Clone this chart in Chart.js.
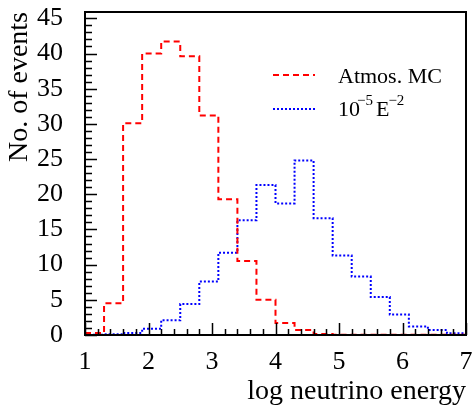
<!DOCTYPE html>
<html>
<head>
<meta charset="utf-8">
<script src="https://cdn.jsdelivr.net/npm/chart.js@4"></script>
<style>
  html, body { margin: 0; padding: 0; background: #fff; }
  #wrap { width: 476px; height: 413px; }
</style>
</head>
<body>
<div id="wrap"><canvas id="histo"></canvas></div>
<script>
// bin edges of the histogram (log10 E)
const binEdges = [1.0, 1.3, 1.6, 1.9, 2.2, 2.5, 2.8, 3.1, 3.4, 3.7, 4.0,
                  4.3, 4.6, 4.9, 5.2, 5.5, 5.8, 6.1, 6.4, 6.7, 7.0];
// events per bin
const atmosMC = [0.3, 4.5, 30.1, 40.0, 41.7, 39.6, 31.2, 19.3, 10.5, 5.0,
                 1.7, 0.7, 0.15, 0.05, 0.05, 0.05, 0.05, 0.05, 0.05, 0.05];
const e2Signal = [0.05, 0.1, 0.3, 0.9, 2.1, 4.4, 7.6, 11.7, 16.3, 21.3,
                  18.7, 24.8, 16.6, 11.3, 8.3, 5.4, 2.9, 1.2, 0.7, 0.25];
const xTicks = [1, 2, 3, 4, 5, 6, 7];
const yTicks = [0, 5, 10, 15, 20, 25, 30, 35, 40, 45];

const FONT = "'Liberation Serif', 'DejaVu Serif', serif";

// step histogram points: first point at left edge, then one per right edge
function toSteps(vals) {
  const pts = [{ x: binEdges[0], y: vals[0] }];
  vals.forEach((v, i) => pts.push({ x: binEdges[i + 1], y: v }));
  return pts;
}

// frame, inward ticks and legend, ROOT style
const frameAndLegend = {
  id: 'frameAndLegend',
  afterDraw(chart) {
    const ctx = chart.ctx;
    const a = chart.chartArea;
    const xs = chart.scales.x, ys = chart.scales.y;
    ctx.save();
    ctx.strokeStyle = '#000';
    ctx.lineWidth = 2;
    ctx.strokeRect(a.left, a.top, a.right - a.left, a.bottom - a.top);

    ctx.lineWidth = 1.5;
    ctx.beginPath();
    for (let v = 0; v <= 45; v++) {
      const py = Math.round(ys.getPixelForValue(v)) + 0.5;
      const len = v % 5 === 0 ? 12 : 7;
      ctx.moveTo(a.left, py);
      ctx.lineTo(a.left + len, py);
    }
    for (let k = 0; k <= 30; k++) {
      const v = 1 + k * 0.2;
      const px = Math.round(xs.getPixelForValue(v)) + 0.5;
      const len = k % 5 === 0 ? 12 : 6;
      ctx.moveTo(px, a.bottom);
      ctx.lineTo(px, a.bottom - len);
    }
    ctx.stroke();

    // legend
    const ds = chart.data.datasets;
    const rows = [75, 109];
    ctx.lineWidth = 2;
    ds.forEach((d, i) => {
      ctx.strokeStyle = d.borderColor;
      ctx.setLineDash(d.borderDash);
      ctx.beginPath();
      ctx.moveTo(273, rows[i]);
      ctx.lineTo(315, rows[i]);
      ctx.stroke();
    });
    ctx.setLineDash([]);
    ctx.fillStyle = '#000';
    ctx.textBaseline = 'alphabetic';
    ctx.font = '22px ' + FONT;
    ctx.fillText('Atmos. MC', 338, 83);
    let x = 338;
    const base = 116;
    ctx.fillText('10', x, base);
    x += ctx.measureText('10').width - 3;
    ctx.font = '15px ' + FONT;
    ctx.fillText('\u22125', x, base - 11);
    x += ctx.measureText('\u22125').width + 3;
    ctx.font = '22px ' + FONT;
    ctx.fillText('E', x, base);
    x += ctx.measureText('E').width - 1;
    ctx.font = '15px ' + FONT;
    ctx.fillText('\u22122', x, base - 11);
    ctx.restore();
  }
};

new Chart(document.getElementById('histo'), {
  type: 'line',
  data: {
    datasets: [
      {
        label: 'Atmos. MC',
        data: toSteps(atmosMC),
        borderColor: '#ff0000',
        borderDash: [6, 4],
        borderWidth: 2,
        stepped: 'after',
        pointRadius: 0,
        fill: false
      },
      {
        label: '10^-5 E^-2',
        data: toSteps(e2Signal),
        borderColor: '#0000ff',
        borderDash: [2, 2],
        borderWidth: 2,
        stepped: 'after',
        pointRadius: 0,
        fill: false
      }
    ]
  },
  options: {
    responsive: true,
    maintainAspectRatio: false,
    animation: false,
    layout: { padding: { top: 12, right: 10, left: 0, bottom: 0 } },
    plugins: {
      legend: { display: false },
      tooltip: { enabled: false }
    },
    scales: {
      x: {
        type: 'linear',
        min: 1,
        max: 7,
        grid: { display: false, drawTicks: false },
        border: { display: false },
        afterBuildTicks: (s) => { s.ticks = xTicks.map(v => ({ value: v })); },
        afterFit: (s) => {
          s.height = 78;
          s.paddingLeft = 0; s.paddingRight = 0;
        },
        ticks: {
          autoSkip: false,
          maxRotation: 0,
          padding: 12,
          color: '#000',
          font: { family: FONT, size: 26 }
        },
        title: {
          display: true,
          text: 'log neutrino energy',
          align: 'end',
          color: '#000',
          font: { family: FONT, size: 28 },
          padding: { top: 0, bottom: 5 }
        }
      },
      y: {
        min: 0,
        max: 45.9,
        grid: { display: false, drawTicks: false },
        border: { display: false },
        afterBuildTicks: (s) => { s.ticks = yTicks.map(v => ({ value: v })); },
        afterFit: (s) => {
          s.width = 85;
          s.paddingTop = 0; s.paddingBottom = 0;
        },
        ticks: {
          autoSkip: false,
          padding: 22,
          color: '#000',
          font: { family: FONT, size: 26 }
        },
        title: {
          display: true,
          text: 'No. of events',
          align: 'end',
          color: '#000',
          font: { family: FONT, size: 28 },
          padding: { top: 3, bottom: 0 }
        }
      }
    }
  },
  plugins: [frameAndLegend]
});
</script>
</body>
</html>
